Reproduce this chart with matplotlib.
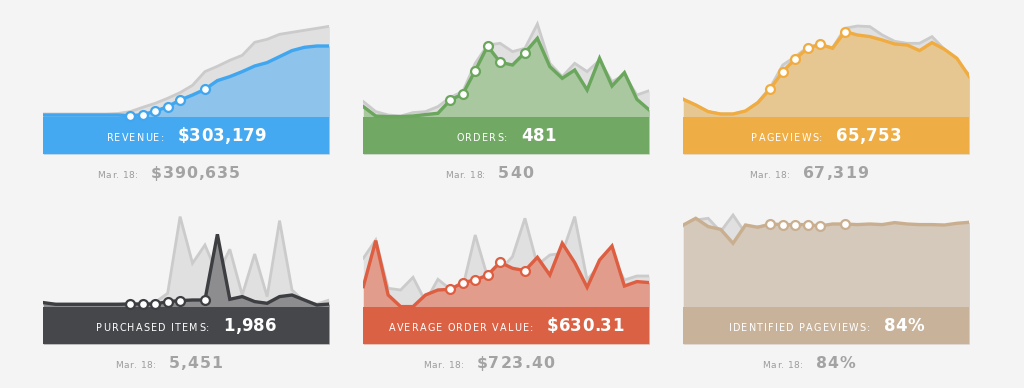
import matplotlib
matplotlib.use("Agg")
import matplotlib.pyplot as plt
from matplotlib import font_manager
from matplotlib.font_manager import FontProperties

W, H, DPI = 1024, 388, 100

# ---------------- data (heights above the label band, arbitrary units) ----------------
days = list(range(24))
highlight_days = [7, 8, 9, 10, 11, 13]

revenue_current = [2.3, 2.3, 2.3, 2.3, 2.3, 2.3, 2.3, 1.5, 2.7, 6.0, 10.7, 17.3,
                   22.3, 28.0, 36.7, 40.7, 45.7, 51.3, 54.7, 60.7, 66.7, 70.0, 71.3, 71.3]
revenue_previous = [3.3, 3.3, 3.3, 3.3, 3.3, 3.3, 3.8, 5.7, 10.0, 14.0, 19.0, 24.7,
                    32.0, 45.7, 51.0, 57.0, 62.0, 75.0, 78.0, 83.0, 85.0, 87.0, 89.0, 91.0]

orders_current = [10.7, 1.3, 0.7, 0.7, 1.3, 2.7, 4.0, 17.3, 23.3, 46.7, 71.3, 55.0,
                  52.3, 64.7, 79.0, 50.7, 39.0, 47.3, 27.3, 59.0, 31.3, 44.7, 18.0, 7.3]
orders_previous = [15.7, 5.7, 2.3, 1.3, 4.7, 5.7, 10.7, 20.0, 25.7, 54.0, 72.3, 74.0,
                   65.7, 69.0, 93.3, 54.0, 40.7, 54.0, 45.7, 57.0, 35.7, 42.3, 22.3, 26.7]

pageviews_current = [18.0, 12.3, 5.7, 3.3, 3.3, 6.3, 14.7, 28.7, 45.7, 58.3, 69.0, 73.0,
                     69.0, 85.7, 82.3, 80.7, 77.3, 73.3, 72.3, 66.7, 74.7, 68.0, 59.0, 40.7]
pageviews_previous = [18.0, 12.3, 5.7, 3.3, 3.3, 6.3, 15.0, 30.0, 52.3, 60.7, 70.0, 73.0,
                      69.5, 89.0, 91.3, 90.7, 82.3, 76.0, 74.0, 74.0, 80.7, 68.0, 55.7, 42.3]

purchased_current = [4.7, 3.0, 3.0, 3.0, 3.0, 3.0, 3.0, 3.3, 3.3, 3.3, 5.7, 6.7,
                     7.3, 7.3, 73.0, 8.0, 10.7, 5.7, 4.0, 10.7, 12.3, 7.3, 2.3, 3.3]
purchased_previous = [3.3, 3.3, 3.3, 3.3, 3.3, 3.3, 3.3, 3.3, 3.3, 5.0, 14.0, 90.7,
                      44.0, 62.3, 33.0, 58.0, 12.3, 53.3, 10.7, 86.7, 17.3, 5.7, 3.3, 7.3]

aov_current = [20.7, 66.7, 12.3, 0.7, 0.7, 12.3, 17.3, 18.0, 24.7, 27.3, 32.3, 45.0,
               39.0, 36.7, 50.0, 32.3, 64.0, 44.7, 20.0, 47.3, 61.3, 21.3, 25.7, 24.7]
aov_previous = [49.0, 67.3, 19.0, 17.3, 30.0, 5.7, 28.0, 18.0, 20.0, 72.3, 30.0, 37.3,
                50.7, 89.0, 42.3, 52.3, 54.0, 90.7, 27.3, 42.3, 50.7, 27.3, 31.3, 31.3]

identified_current = [82.3, 89.0, 80.7, 78.0, 64.0, 82.3, 80.0, 83.3, 82.7, 82.7, 82.7, 81.3,
                      83.3, 83.3, 82.7, 83.3, 82.7, 84.7, 83.3, 82.7, 82.7, 82.3, 84.0, 85.0]
identified_previous = [81.3, 87.3, 89.0, 75.7, 92.3, 74.0, 80.7, 82.0, 80.7, 80.7, 80.7, 80.7,
                       80.7, 81.0, 80.7, 81.0, 80.7, 81.0, 80.7, 80.7, 80.7, 81.0, 81.3, 81.3]

metric_labels = ["REVENUE:", "ORDERS:", "PAGEVIEWS:",
                 "PURCHASED ITEMS:", "AVERAGE ORDER VALUE:", "IDENTIFIED PAGEVIEWS:"]
current_totals = ["$303,179", "481", "65,753", "1,986", "$630.31", "84%"]
previous_totals = ["$390,635", "540", "67,319", "5,451", "$723.40", "84%"]
previous_label = "Mar. 18:"

current_series = [revenue_current, orders_current, pageviews_current,
                  purchased_current, aov_current, identified_current]
previous_series = [revenue_previous, orders_previous, pageviews_previous,
                   purchased_previous, aov_previous, identified_previous]

# ---------------- style ----------------
BG = "#F4F4F4"
GRAY_FILL = "#E0E0E0"
GRAY_LINE = "#CBCBCB"
band_colors = ["#45A9F1", "#71A863", "#EFAE45", "#46474B", "#DB6144", "#C8B39A"]
fill_colors = ["#8EC3EB", "#A9C8A0", "#E7C791", "#8D8D8F", "#E29C8C", "#D5C9BB"]
line_colors = ["#3FA6EF", "#6AA65C", "#F0AC40", "#3D3E42", "#DD5E41", "#C9AF8F"]

panel_lefts = [43.3, 363.3, 683.3]
panel_width = 286.0
band_tops = [117.3, 307.3]
band_h = 36.7
chart_h = 102.0

FAMILY = "DejaVu Sans"


def char_advances(s, weight, size):
    fp = FontProperties(family=FAMILY, weight=weight, size=size)
    font = font_manager.get_font(font_manager.findfont(fp))
    font.set_size(size, DPI)
    return [font.load_char(ord(c)).linearHoriAdvance / 65536 for c in s]


def spaced_width(s, weight, size, spacing):
    adv = char_advances(s, weight, size)
    return sum(adv) + spacing * (len(s) - 1)


def draw_spaced(fig, x_px, base_px, s, weight, size, spacing, color):
    adv = char_advances(s, weight, size)
    x = x_px
    for c, a in zip(s, adv):
        if c != " ":
            fig.text(x / W, 1 - base_px / H, c, fontsize=size, family=FAMILY,
                     weight=weight, color=color, ha="left", va="baseline")
        x += a + spacing


def draw_pair(fig, cx, base_px, left_s, lw, lsize, lsp, right_s, rw, rsize, rsp, gap, lcol, rcol):
    w1 = spaced_width(left_s, lw, lsize, lsp)
    w2 = spaced_width(right_s, rw, rsize, rsp)
    x0 = cx - (w1 + gap + w2) / 2
    draw_spaced(fig, x0, base_px, left_s, lw, lsize, lsp, lcol)
    draw_spaced(fig, x0 + w1 + gap, base_px, right_s, rw, rsize, rsp, rcol)


fig = plt.figure(figsize=(W / DPI, H / DPI), dpi=DPI, facecolor=BG)

for k in range(6):
    row, col = divmod(k, 3)
    left = panel_lefts[col]
    btop = band_tops[row]
    bbot = btop + band_h
    top = btop - chart_h
    ax = fig.add_axes([left / W, 1 - bbot / H, panel_width / W, (bbot - top) / H])
    ax.set_xlim(days[0], days[-1])
    ax.set_ylim(-band_h, chart_h)
    ax.axis("off")

    cur = current_series[k]
    prev = previous_series[k]
    ax.fill_between(days, prev, -band_h, color=GRAY_FILL, lw=0, zorder=1)
    ax.plot(days, prev, color=GRAY_LINE, lw=2.0, zorder=1.5, solid_joinstyle="miter")
    ax.fill_between(days, cur, -band_h, color=fill_colors[k], lw=0, zorder=2)
    ax.axhspan(-band_h, 0, color=band_colors[k], lw=0, zorder=3)
    ax.plot(days, cur, color=line_colors[k], lw=2.4, zorder=4, solid_joinstyle="miter")
    ax.plot([days[i] for i in highlight_days], [cur[i] for i in highlight_days],
            ls="none", marker="o", ms=6.4, mfc="white", mec=line_colors[k], mew=1.6,
            zorder=5, clip_on=False)

    cx = left + panel_width / 2
    draw_pair(fig, cx, btop + 23.7,
              metric_labels[k], "normal", 6.9, 1.2,
              current_totals[k], "bold", 12.0, 0.2,
              13.5, "white", "white")
    draw_pair(fig, cx - 17.5, bbot + 24.3,
              previous_label, "normal", 6.5, 0.5,
              previous_totals[k], "bold", 11.3, 1.0,
              12.5, "#9C9C9C", "#A3A3A3")

fig.savefig("out.png", dpi=DPI, facecolor=BG)
